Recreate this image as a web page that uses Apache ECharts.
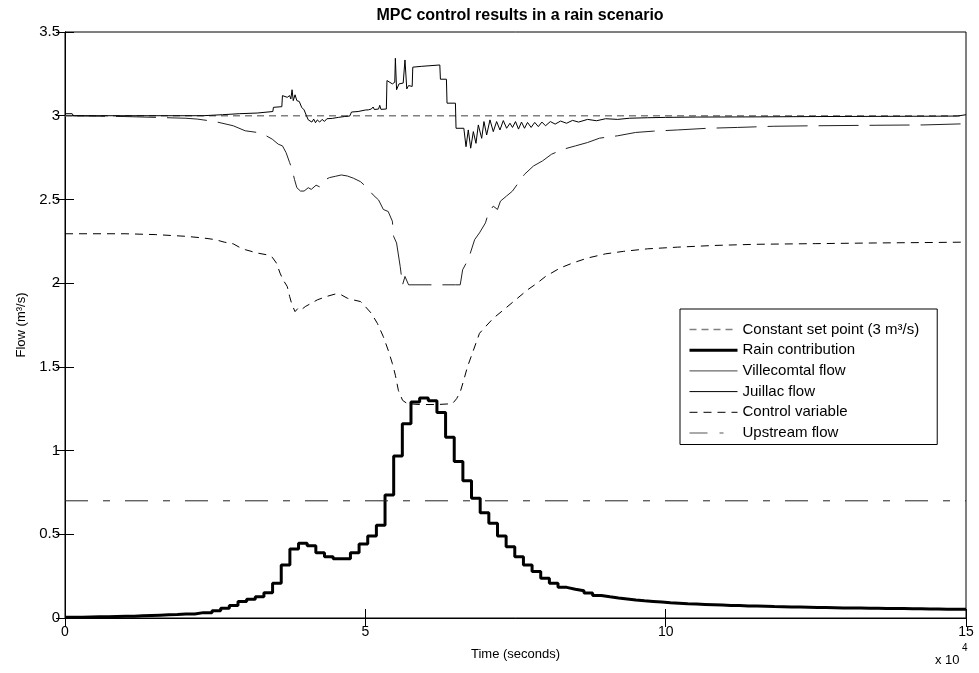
<!DOCTYPE html>
<html>
<head>
<meta charset="utf-8">
<title>MPC control results in a rain scenario</title>
<script src="https://cdn.jsdelivr.net/npm/echarts@6/dist/echarts.min.js"></script>
<style>
  html, body { margin: 0; padding: 0; background: #fff; }
  #chart { width: 979px; height: 673px; }
</style>
</head>
<body>
<div id="chart"></div>
<script>
// time is in units of 10^4 seconds (axis shows "x 10^4")
const xTicks = [0, 5, 10, 15];
const yTicks = [0, 0.5, 1, 1.5, 2, 2.5, 3, 3.5];

// rain contribution, one value per sample (24 min = 0.144 x 10^4 s)
const rainStep = 0.144;
const rain = [
  0.004, 0.005, 0.006, 0.007, 0.008, 0.009, 0.010, 0.011, 0.013, 0.015,
  0.017, 0.019, 0.021, 0.024, 0.024, 0.032, 0.032, 0.044, 0.058, 0.074,
  0.098, 0.112, 0.127, 0.151, 0.207, 0.317, 0.412, 0.446, 0.432, 0.390,
  0.366, 0.354, 0.354, 0.390, 0.442, 0.490, 0.554, 0.735, 0.968, 1.160,
  1.290, 1.314, 1.298, 1.228, 1.079, 0.934, 0.820, 0.715, 0.629, 0.566,
  0.490, 0.426, 0.366, 0.317, 0.277, 0.237, 0.207, 0.183, 0.172, 0.163,
  0.150, 0.135, 0.127, 0.120, 0.114, 0.108, 0.103, 0.099, 0.095, 0.091,
  0.088, 0.085, 0.083, 0.081, 0.079, 0.077, 0.075, 0.074, 0.072, 0.071,
  0.070, 0.068, 0.067, 0.066, 0.065, 0.064, 0.063, 0.062, 0.061, 0.060,
  0.060, 0.059, 0.058, 0.058, 0.057, 0.056, 0.056, 0.055, 0.055, 0.054,
  0.054, 0.053, 0.053, 0.052, 0.052
];

const setPointT = [0, 15];
const setPointV = [3, 3];

const upstreamT = [0, 15];
const upstreamV = [0.7, 0.7];

const villeT = [
  0, 1.0, 1.5, 2.0, 2.2, 2.5, 2.8, 3.0, 3.2, 3.35, 3.45, 3.55, 3.62, 3.68, 3.74, 3.78,
  3.82, 3.86, 3.92, 3.98, 4.05, 4.1, 4.18, 4.24, 4.33, 4.4, 4.5, 4.6, 4.7, 4.8, 4.92,
  5.0, 5.13, 5.22, 5.3, 5.38, 5.45, 5.47, 5.52, 5.58, 5.62, 5.66, 5.72, 6.5, 6.58,
  6.62, 6.68, 6.74, 6.82, 6.9, 7.0, 7.05, 7.13, 7.2, 7.25, 7.35, 7.45, 7.55, 7.65,
  7.8, 7.95, 8.1, 8.3, 8.5, 8.7, 8.9, 9.2, 9.5, 9.8, 10.2, 10.7, 11.2, 11.8, 12.5,
  13.5, 14.3, 15
];
const villeV = [
  3.0, 2.995, 2.99, 2.985, 2.98, 2.965, 2.94, 2.91, 2.9, 2.88, 2.86, 2.83, 2.82, 2.78, 2.72, 2.68,
  2.62, 2.57, 2.55, 2.55, 2.57, 2.56, 2.585, 2.575, 2.617, 2.63, 2.638, 2.646, 2.64, 2.627, 2.606,
  2.58, 2.527, 2.497, 2.44, 2.428, 2.37, 2.28, 2.24, 2.1, 1.99, 2.04, 1.99, 1.99, 1.99,
  2.08, 2.12, 2.17, 2.26, 2.3, 2.36, 2.42, 2.46, 2.44, 2.49, 2.52, 2.55, 2.6, 2.65,
  2.7, 2.73, 2.77, 2.8, 2.82, 2.84, 2.866, 2.88, 2.9, 2.908, 2.915, 2.925, 2.93, 2.937, 2.94,
  2.943, 2.945, 2.952
];

const juillacT = [
  0, 0.12, 0.14, 2.3, 2.32, 2.62, 2.64, 2.9, 2.92, 3.2, 3.22, 3.46, 3.47, 3.61, 3.62, 3.7,
  3.74, 3.76, 3.78, 3.8, 3.83, 3.86, 3.9, 3.94, 3.98, 4.02, 4.05, 4.08, 4.11, 4.14, 4.17,
  4.2, 4.24, 4.28, 4.32, 4.36, 4.45, 4.55, 4.65, 4.74, 4.77, 4.88, 4.91, 5.0, 5.02, 5.05,
  5.1, 5.13, 5.15, 5.22, 5.24, 5.26, 5.35, 5.36, 5.45, 5.49, 5.5, 5.52, 5.56, 5.63, 5.66,
  5.69, 5.72, 5.78, 5.79, 5.94, 5.96, 6.24, 6.25, 6.35, 6.36, 6.5, 6.51, 6.64, 6.676,
  6.714, 6.754, 6.798, 6.842, 6.881, 6.937, 6.975, 7.02, 7.075, 7.13, 7.186, 7.241, 7.297,
  7.352, 7.408, 7.45, 7.5, 7.55, 7.6, 7.65, 7.7, 7.76, 7.82, 7.88, 7.94, 8.0, 8.08, 8.16,
  8.25, 8.35, 8.45, 8.55, 8.7, 8.85, 9.0, 9.2, 9.4, 9.7, 10.0, 10.5, 11.5, 12.5, 13.5,
  14.5, 14.86, 14.88, 15
];
const juillacV = [
  3.012, 3.012, 3.0, 3.0, 3.006, 3.006, 3.012, 3.012, 3.016, 3.016, 3.022, 3.025, 3.05, 3.054, 3.12, 3.11,
  3.12, 3.10, 3.155, 3.09, 3.125, 3.09, 3.085, 3.05, 3.035, 3.0, 2.975, 2.985, 2.962, 2.98, 2.958,
  2.975, 2.962, 2.978, 2.966, 2.982, 2.984, 2.99, 2.995, 2.998, 3.022, 3.025, 3.036, 3.034, 3.045, 3.035,
  3.04, 3.052, 3.037, 3.04, 3.062, 3.038, 3.04, 3.21, 3.19, 3.2, 3.343, 3.155, 3.19, 3.195, 3.333,
  3.16, 3.18, 3.175, 3.29, 3.295, 3.303, 3.303, 3.218, 3.218, 3.075, 3.075, 2.925, 2.925, 2.815,
  2.915, 2.806, 2.905, 2.835, 2.945, 2.865, 2.965, 2.885, 2.975, 2.905, 2.965, 2.915, 2.971,
  2.925, 2.955, 2.93, 2.965, 2.92, 2.962, 2.925, 2.96, 2.93, 2.96, 2.935, 2.962, 2.94, 2.965, 2.95,
  2.968, 2.955, 2.972, 2.962, 2.978, 2.97, 2.982, 2.978, 2.985, 2.988, 2.99, 2.992, 2.993, 2.995, 2.996,
  2.997, 2.998, 3.006, 3.006
];

const controlT = [
  0, 1.0, 1.5, 1.75, 2.0, 2.3, 2.5, 2.65, 2.8, 2.9, 3.0, 3.2, 3.35, 3.45, 3.52, 3.58, 3.63,
  3.7, 3.74, 3.78, 3.83, 3.88, 3.93, 4.0, 4.1, 4.2, 4.35, 4.5, 4.6, 4.7, 4.8, 4.92, 5.0,
  5.1, 5.2, 5.3, 5.38, 5.45, 5.5, 5.55, 5.62, 5.7, 5.9, 6.2, 6.45, 6.52, 6.58, 6.63, 6.7,
  6.8, 6.9, 7.0, 7.13, 7.3, 7.5, 7.7, 7.86, 8.0, 8.24, 8.45, 8.7, 9.0, 9.3, 9.7, 10.2,
  10.8, 11.5, 12.5, 13.5, 14.5, 15
];
const controlV = [
  2.295, 2.295, 2.29, 2.285, 2.28, 2.27, 2.26, 2.245, 2.235, 2.215, 2.2, 2.18, 2.17, 2.155, 2.12, 2.06, 2.02,
  1.98, 1.92, 1.87, 1.83, 1.85, 1.84, 1.86, 1.88, 1.9, 1.92, 1.935, 1.93, 1.91, 1.9, 1.89, 1.86,
  1.82, 1.76, 1.68, 1.6, 1.52, 1.45, 1.36, 1.3, 1.28, 1.275, 1.275, 1.28, 1.31, 1.35, 1.41, 1.5,
  1.6, 1.7, 1.74, 1.79, 1.84, 1.9, 1.96, 2.0, 2.04, 2.09, 2.12, 2.15, 2.175, 2.19, 2.205, 2.215,
  2.225, 2.232, 2.236, 2.24, 2.243, 2.245
];

function pairs(t, v) {
  return t.map((x, i) => [x, v[i]]);
}

const rainData = rain.map((v, i) => [i * rainStep, v]);
rainData.push([15, rain[rain.length - 1]]);

const font = "'Liberation Sans', Arial, sans-serif";
const chart = echarts.init(document.getElementById("chart"), null, { renderer: "canvas" });

const option = {
  animation: false,
  backgroundColor: "#fff",
  title: {
    text: "MPC control results in a rain scenario",
    left: 515,
    top: 3,
    textAlign: "center",
    textStyle: { fontFamily: font, fontSize: 16, fontWeight: "bold", color: "#000" },
  },
  grid: { left: 65, right: 13, top: 32, bottom: 55, show: true, borderColor: "#000", borderWidth: 1 },
  legend: {
    orient: "vertical",
    left: 680,
    top: 309,
    padding: [13, 18, 4, 8],
    itemWidth: 48,
    itemHeight: 14,
    itemGap: 5.7,
    borderColor: "#000",
    borderWidth: 1,
    backgroundColor: "#fff",
    selectedMode: false,
    itemStyle: { opacity: 0 },
    textStyle: { fontFamily: font, fontSize: 15, color: "#000", lineHeight: 14 },
    data: [
      { name: "Constant set point (3 m³/s)", lineStyle: { type: [7, 5], color: "#808080", width: 1.5 } },
      { name: "Rain contribution", lineStyle: { type: "solid", color: "#000", width: 3 } },
      { name: "Villecomtal flow", lineStyle: { type: "solid", color: "#444", width: 1 } },
      { name: "Juillac flow", lineStyle: { type: "solid", color: "#000", width: 1 } },
      { name: "Control variable", lineStyle: { type: [8, 6], color: "#000", width: 1 } },
      { name: "Upstream flow", lineStyle: { type: [18, 12, 4, 40], color: "#555", width: 1 } },
    ],
  },
  xAxis: [
    {
      type: "value",
      min: 0,
      max: 15,
      interval: 5,
      name: "Time (seconds)",
      nameLocation: "middle",
      nameGap: 30,
      nameTextStyle: { fontFamily: font, fontSize: 13, color: "#000" },
      axisLine: { lineStyle: { color: "#000" } },
      axisTick: { inside: true, length: 9, lineStyle: { color: "#000" } },
      axisLabel: { fontFamily: font, fontSize: 14, color: "#000", margin: 7 },
      splitLine: { show: false },
    },
    {
      type: "value",
      position: "top",
      min: 0,
      max: 15,
      interval: 5,
      axisLine: { lineStyle: { color: "#000" } },
      axisTick: { inside: true, length: 9, lineStyle: { color: "#000" } },
      axisLabel: { show: false },
      splitLine: { show: false },
    },
  ],
  yAxis: [
    {
      type: "value",
      min: 0,
      max: 3.5,
      interval: 0.5,
      name: "Flow (m³/s)",
      nameLocation: "middle",
      nameGap: 37,
      nameTextStyle: { fontFamily: font, fontSize: 13, color: "#000" },
      axisLine: { show: true, lineStyle: { color: "#000" } },
      axisTick: { show: true, inside: true, length: 9, lineStyle: { color: "#000" } },
      axisLabel: { fontFamily: font, fontSize: 15, color: "#000", margin: 5 },
      splitLine: { show: false },
    },
    {
      type: "value",
      position: "right",
      min: 0,
      max: 3.5,
      interval: 0.5,
      axisLine: { show: true, lineStyle: { color: "#000" } },
      axisTick: { show: true, inside: true, length: 9, lineStyle: { color: "#000" } },
      axisLabel: { show: false },
      splitLine: { show: false },
    },
  ],
  graphic: [
    {
      type: "text",
      left: 935,
      top: 654,
      style: { text: "x 10", fontFamily: font, fontSize: 13, fill: "#000" },
    },
    {
      type: "text",
      left: 962,
      top: 643,
      style: { text: "4", fontFamily: font, fontSize: 10, fill: "#000" },
    },
  ],
  series: [
    {
      name: "Constant set point (3 m³/s)",
      type: "line",
      symbol: "none",
      data: pairs(setPointT, setPointV),
      itemStyle: { color: "#808080" },
      lineStyle: { type: [7, 5], color: "#808080", width: 1.5 },
    },
    {
      name: "Rain contribution",
      type: "line",
      symbol: "none",
      step: "end",
      data: rainData,
      itemStyle: { color: "#000" },
      lineStyle: { color: "#000", width: 3 },
      z: 3,
    },
    {
      name: "Villecomtal flow",
      type: "line",
      symbol: "none",
      data: pairs(villeT, villeV),
      itemStyle: { color: "#222" },
      lineStyle: { type: [40, 11], color: "#222", width: 1 },
    },
    {
      name: "Juillac flow",
      type: "line",
      symbol: "none",
      data: pairs(juillacT, juillacV),
      itemStyle: { color: "#000" },
      lineStyle: { color: "#000", width: 1 },
    },
    {
      name: "Control variable",
      type: "line",
      symbol: "none",
      data: pairs(controlT, controlV),
      itemStyle: { color: "#000" },
      lineStyle: { type: [8, 6], color: "#000", width: 1 },
    },
    {
      name: "Upstream flow",
      type: "line",
      symbol: "none",
      data: pairs(upstreamT, upstreamV),
      itemStyle: { color: "#222" },
      lineStyle: { type: [23, 15, 7, 15], color: "#222", width: 1 },
    },
  ],
};

chart.setOption(option);
</script>
</body>
</html>
